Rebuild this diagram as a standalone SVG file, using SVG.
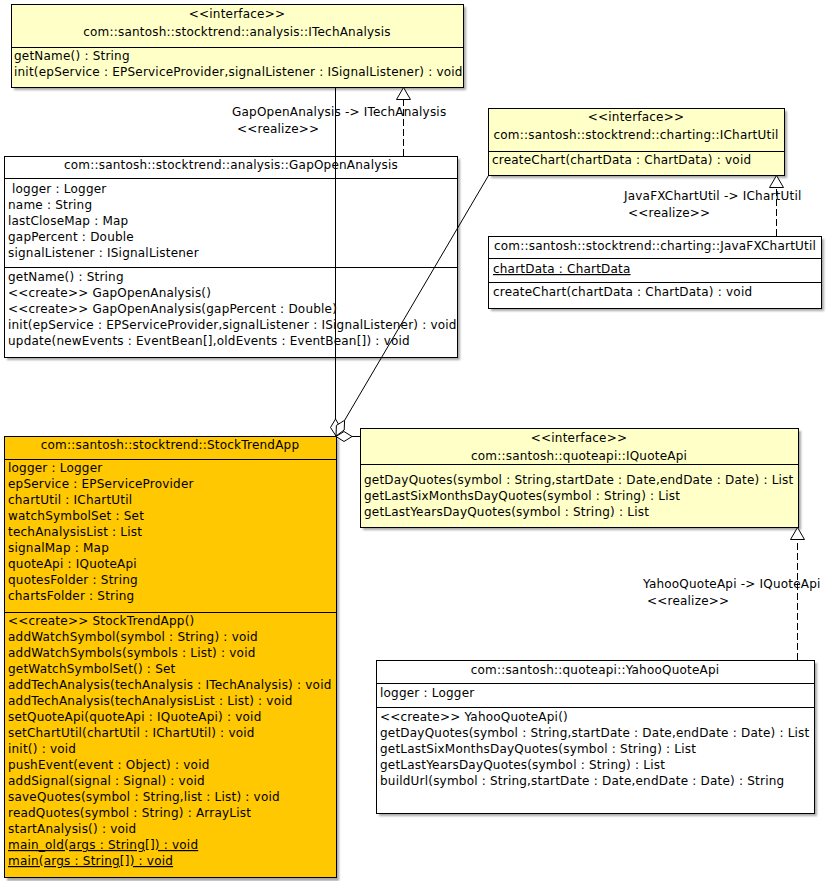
<svg xmlns="http://www.w3.org/2000/svg" width="826" height="881" viewBox="0 0 826 881">
  <defs>
    <style>
      text { font-family: "DejaVu Sans", "Liberation Sans", sans-serif; font-size: 12px; letter-spacing: 0.21px; fill: #000; white-space: pre; }
      .c { text-anchor: middle; }
      .u { text-decoration: underline; }
      .box { stroke: #000; stroke-width: 1; }
      .iface { fill: #ffffc8; }
      .cls { fill: #ffffff; }
      .main { fill: #ffc800; }
      .sep { stroke: #000; stroke-width: 1; fill: none; }
      .shadow { fill: #a8a8a8; filter: url(#soft); }
      .edge { stroke: #000; stroke-width: 1; fill: none; }
      .dash { stroke-dasharray: 7 3; }
      .head { stroke: #000; stroke-width: 1; fill: #fff; }
    </style>
    <filter id="soft" x="-5%" y="-5%" width="110%" height="110%">
      <feGaussianBlur stdDeviation="0.8"/>
    </filter>
  </defs>

  <rect width="826" height="881" fill="#fff"/>

  <!-- ITechAnalysis -->
  <g id="ITechAnalysis">
    <rect class="shadow" x="14" y="7" width="452" height="83"/>
    <rect class="box iface" x="11.5" y="4.5" width="452" height="83"/>
    <line class="sep" x1="11.5" y1="47.5" x2="463.5" y2="47.5"/>
    <text class="c" x="237" y="18">&lt;&lt;interface&gt;&gt;</text>
    <text class="c" x="237" y="36">com::santosh::stocktrend::analysis::ITechAnalysis</text>
    <text x="14" y="60">getName() : String</text>
    <text x="14" y="76">init(epService : EPServiceProvider,signalListener : ISignalListener) : void</text>
  </g>

  <!-- GapOpenAnalysis -->
  <g id="GapOpenAnalysis">
    <rect class="shadow" x="7" y="159" width="453" height="201"/>
    <rect class="box cls" x="4.5" y="156.5" width="453" height="201"/>
    <line class="sep" x1="4.5" y1="178.5" x2="457.5" y2="178.5"/>
    <line class="sep" x1="4.5" y1="267.5" x2="457.5" y2="267.5"/>
    <text class="c" x="231" y="169">com::santosh::stocktrend::analysis::GapOpenAnalysis</text>
    <text x="8" y="193"> logger : Logger</text>
    <text x="8" y="209">name : String</text>
    <text x="8" y="225">lastCloseMap : Map</text>
    <text x="8" y="241">gapPercent : Double</text>
    <text x="8" y="257">signalListener : ISignalListener</text>
    <text x="8" y="281">getName() : String</text>
    <text x="8" y="297">&lt;&lt;create&gt;&gt; GapOpenAnalysis()</text>
    <text x="8" y="313">&lt;&lt;create&gt;&gt; GapOpenAnalysis(gapPercent : Double)</text>
    <text x="8" y="329">init(epService : EPServiceProvider,signalListener : ISignalListener) : void</text>
    <text x="8" y="345">update(newEvents : EventBean[],oldEvents : EventBean[]) : void</text>
  </g>

  <!-- IChartUtil -->
  <g id="IChartUtil">
    <rect class="shadow" x="491" y="111" width="296" height="67"/>
    <rect class="box iface" x="488.5" y="108.5" width="296" height="67"/>
    <line class="sep" x1="488.5" y1="151.5" x2="784.5" y2="151.5"/>
    <text class="c" x="636" y="121">&lt;&lt;interface&gt;&gt;</text>
    <text class="c" x="636" y="139">com::santosh::stocktrend::charting::IChartUtil</text>
    <text x="492" y="164">createChart(chartData : ChartData) : void</text>
  </g>

  <!-- JavaFXChartUtil -->
  <g id="JavaFXChartUtil">
    <rect class="shadow" x="491" y="239" width="333" height="72"/>
    <rect class="box cls" x="488.5" y="236.5" width="333" height="72"/>
    <line class="sep" x1="488.5" y1="258.5" x2="821.5" y2="258.5"/>
    <line class="sep" x1="488.5" y1="282.5" x2="821.5" y2="282.5"/>
    <text class="c" x="655" y="250">com::santosh::stocktrend::charting::JavaFXChartUtil</text>
    <text class="u" x="493" y="273">chartData : ChartData</text>
    <text x="493" y="296">createChart(chartData : ChartData) : void</text>
  </g>

  <!-- StockTrendApp -->
  <g id="StockTrendApp">
    <rect class="shadow" x="7" y="439" width="332" height="442"/>
    <rect class="box main" x="4.5" y="436.5" width="332" height="441"/>
    <line class="sep" x1="4.5" y1="459.5" x2="336.5" y2="459.5"/>
    <line class="sep" x1="4.5" y1="612.5" x2="336.5" y2="612.5"/>
    <text class="c" x="170" y="449">com::santosh::stocktrend::StockTrendApp</text>
    <text x="8" y="472">logger : Logger</text>
    <text x="8" y="488">epService : EPServiceProvider</text>
    <text x="8" y="504">chartUtil : IChartUtil</text>
    <text x="8" y="520">watchSymbolSet : Set</text>
    <text x="8" y="536">techAnalysisList : List</text>
    <text x="8" y="552">signalMap : Map</text>
    <text x="8" y="568">quoteApi : IQuoteApi</text>
    <text x="8" y="584">quotesFolder : String</text>
    <text x="8" y="600">chartsFolder : String</text>
    <text x="8" y="625">&lt;&lt;create&gt;&gt; StockTrendApp()</text>
    <text x="8" y="641">addWatchSymbol(symbol : String) : void</text>
    <text x="8" y="657">addWatchSymbols(symbols : List) : void</text>
    <text x="8" y="673">getWatchSymbolSet() : Set</text>
    <text x="8" y="689">addTechAnalysis(techAnalysis : ITechAnalysis) : void</text>
    <text x="8" y="705">addTechAnalysis(techAnalysisList : List) : void</text>
    <text x="8" y="721">setQuoteApi(quoteApi : IQuoteApi) : void</text>
    <text x="8" y="737">setChartUtil(chartUtil : IChartUtil) : void</text>
    <text x="8" y="753">init() : void</text>
    <text x="8" y="769">pushEvent(event : Object) : void</text>
    <text x="8" y="785">addSignal(signal : Signal) : void</text>
    <text x="8" y="801">saveQuotes(symbol : String,list : List) : void</text>
    <text x="8" y="817">readQuotes(symbol : String) : ArrayList</text>
    <text x="8" y="833">startAnalysis() : void</text>
    <text class="u" x="8" y="849">main_old(args : String[]) : void</text>
    <text class="u" x="8" y="865">main(args : String[]) : void</text>
  </g>

  <!-- IQuoteApi -->
  <g id="IQuoteApi">
    <rect class="shadow" x="363" y="431" width="438" height="99"/>
    <rect class="box iface" x="360.5" y="428.5" width="438" height="99"/>
    <line class="sep" x1="360.5" y1="464.5" x2="798.5" y2="464.5"/>
    <text class="c" x="579" y="442">&lt;&lt;interface&gt;&gt;</text>
    <text class="c" x="579" y="460">com::santosh::quoteapi::IQuoteApi</text>
    <text x="364" y="484">getDayQuotes(symbol : String,startDate : Date,endDate : Date) : List</text>
    <text x="364" y="500">getLastSixMonthsDayQuotes(symbol : String) : List</text>
    <text x="364" y="516">getLastYearsDayQuotes(symbol : String) : List</text>
  </g>

  <!-- YahooQuoteApi -->
  <g id="YahooQuoteApi">
    <rect class="shadow" x="379" y="663" width="438" height="153"/>
    <rect class="box cls" x="376.5" y="660.5" width="438" height="153"/>
    <line class="sep" x1="376.5" y1="683.5" x2="814.5" y2="683.5"/>
    <line class="sep" x1="376.5" y1="707.5" x2="814.5" y2="707.5"/>
    <text class="c" x="595" y="674">com::santosh::quoteapi::YahooQuoteApi</text>
    <text x="380" y="697">logger : Logger</text>
    <text x="380" y="721">&lt;&lt;create&gt;&gt; YahooQuoteApi()</text>
    <text x="380" y="737">getDayQuotes(symbol : String,startDate : Date,endDate : Date) : List</text>
    <text x="380" y="753">getLastSixMonthsDayQuotes(symbol : String) : List</text>
    <text x="380" y="769">getLastYearsDayQuotes(symbol : String) : List</text>
    <text x="380" y="785">buildUrl(symbol : String,startDate : Date,endDate : Date) : String</text>
  </g>

  <!-- connectors -->
  <g id="connectors">
    <!-- realizations -->
    <line class="edge dash" x1="403.5" y1="156" x2="403.5" y2="99"/>
    <polygon class="head" points="403.5,87.5 396.5,99.5 410.5,99.5"/>
    <text x="232" y="116">GapOpenAnalysis -&gt; ITechAnalysis</text>
    <text x="237" y="133">&lt;&lt;realize&gt;&gt;</text>

    <line class="edge dash" x1="776.5" y1="236" x2="776.5" y2="187"/>
    <polygon class="head" points="776.5,175.5 769.5,187.5 783.5,187.5"/>
    <text x="624" y="200">JavaFXChartUtil -&gt; IChartUtil</text>
    <text x="628" y="217">&lt;&lt;realize&gt;&gt;</text>

    <line class="edge dash" x1="797.5" y1="660" x2="797.5" y2="539"/>
    <polygon class="head" points="797.5,527.5 790.5,539.5 804.5,539.5"/>
    <text x="643" y="588">YahooQuoteApi -&gt; IQuoteApi</text>
    <text x="647" y="605">&lt;&lt;realize&gt;&gt;</text>

    <!-- aggregations into StockTrendApp -->
    <line class="edge" x1="335.5" y1="87.5" x2="335.5" y2="419"/>
    <polygon class="head" points="336,436 340.5,427.5 335.5,419 330.5,427.5"/>

    <line class="edge" x1="488.5" y1="175.5" x2="344.6" y2="420.3"/>
    <polygon class="head" points="336,436 344.2,430 344.6,420.3 336.4,425.4"/>

    <line class="edge" x1="360.5" y1="436.5" x2="352" y2="436.5"/>
    <polygon class="head" points="336,436.5 344,431.5 352,436.5 344,441.5"/>
  </g>
</svg>
